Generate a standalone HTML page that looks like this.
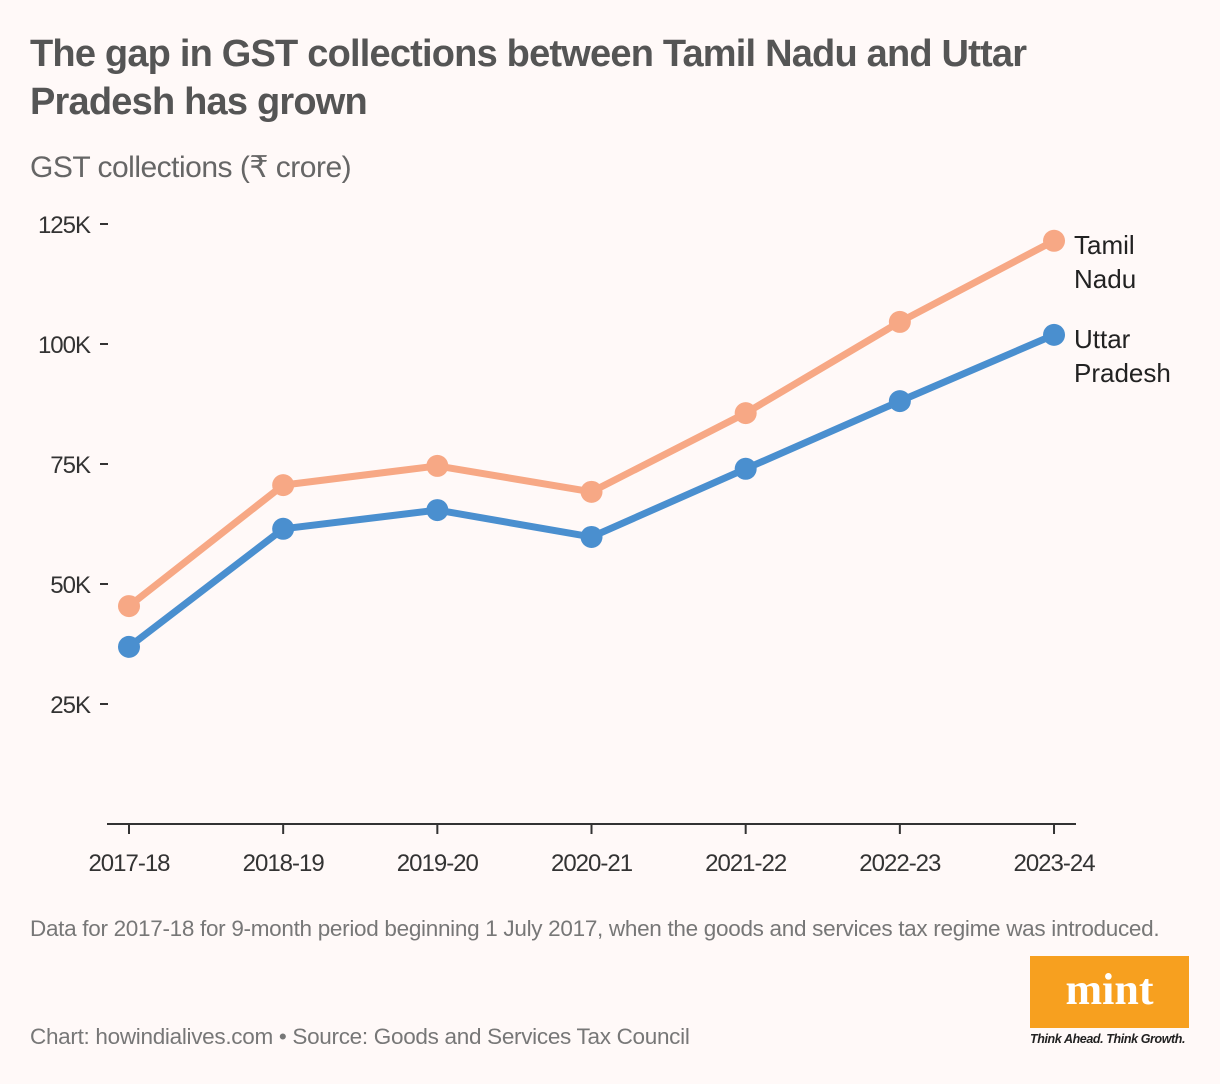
<!DOCTYPE html>
<html><head><meta charset="utf-8"><style>
body{margin:0;background:#fff9f8;width:1220px;height:1084px;overflow:hidden;font-family:"Liberation Sans",sans-serif;}
.t{position:absolute;left:30px;top:30px;font-size:38px;font-weight:bold;color:#555;line-height:48px;letter-spacing:-0.8px;width:1120px}
.s{position:absolute;left:30px;top:150px;font-size:30px;color:#666;letter-spacing:-0.5px}
.n{position:absolute;left:30px;top:916px;font-size:22.5px;color:#777;letter-spacing:-0.3px;white-space:nowrap}
.c{position:absolute;left:30px;top:1024px;font-size:22.5px;color:#777;letter-spacing:-0.3px;white-space:nowrap}
</style></head><body>
<div class="t">The gap in GST collections between Tamil Nadu and Uttar Pradesh has grown</div>
<div class="s">GST collections (₹ crore)</div>
<svg id="ch" width="1220" height="1084" style="position:absolute;left:0;top:0"></svg>
<div class="n">Data for 2017-18 for 9-month period beginning 1 July 2017, when the goods and services tax regime was introduced.</div>
<div class="c">Chart: howindialives.com • Source: Goods and Services Tax Council</div>
<div style="position:absolute;left:1030px;top:956px;width:159px;height:72px;background:#f7a01f;color:#fff;font-family:'Liberation Serif',serif;font-weight:bold;font-size:44px;text-align:center;line-height:68px">mint</div>
<div style="position:absolute;left:1030px;top:1032px;font-size:12.5px;font-style:italic;font-weight:bold;color:#222;letter-spacing:-0.4px">Think Ahead. Think Growth.</div>
<script>
const categories=["2017-18","2018-19","2019-20","2020-21","2021-22","2022-23","2023-24"];
const tamilNadu=[45.4,70.6,74.6,69.2,85.6,104.6,121.5];
const uttarPradesh=[36.9,61.5,65.4,59.8,74.0,88.1,101.9];
const yTicks=[25,50,75,100,125];
const svg=document.getElementById('ch');const NS='http://www.w3.org/2000/svg';
const x=i=>129+i*154.17, y=v=>824-v*4.8;
function mk(t,a,p){const e=document.createElementNS(NS,t);for(const k in a)e.setAttribute(k,a[k]);(p||svg).appendChild(e);return e;}
yTicks.forEach(v=>{
 const l=mk('line',{x1:100,x2:108,y1:y(v),y2:y(v),stroke:'#333','stroke-width':2});
 
 
 const t=mk('text',{x:90,y:y(v)+9,'text-anchor':'end','font-size':24,fill:'#333','letter-spacing':'-1'});t.textContent=v+'K';
 
 
});
const ax=mk('line',{x1:107,x2:1076,y1:824,y2:824,stroke:'#333','stroke-width':2});


categories.forEach((c,i)=>{
 mk('line',{x1:x(i),x2:x(i),y1:824,y2:834,stroke:'#333','stroke-width':2});
 const t=mk('text',{x:x(i),y:871,'text-anchor':'middle','font-size':24,fill:'#333','letter-spacing':'-1'});t.textContent=c;
 
 
});
function series(d,col,name,lab){
 const p=mk('polyline',{points:d.map((v,i)=>x(i)+','+y(v)).join(' '),fill:'none',stroke:col,'stroke-width':7,'stroke-linejoin':'round'});
 
 
 d.forEach((v,i)=>{const c=mk('circle',{cx:x(i),cy:y(v),r:11,fill:col});
  
  });
 const last=d.length-1;
 lab.forEach((s,j)=>{const t=mk('text',{x:1074,y:y(d[last])+13+j*34,'font-size':26,fill:'#222'});t.textContent=s;
  
  });
}
series(tamilNadu,'#f7a885','tamil-nadu',['Tamil','Nadu']);
series(uttarPradesh,'#4a8fcf','uttar-pradesh',['Uttar','Pradesh']);
</script>
</body></html>
